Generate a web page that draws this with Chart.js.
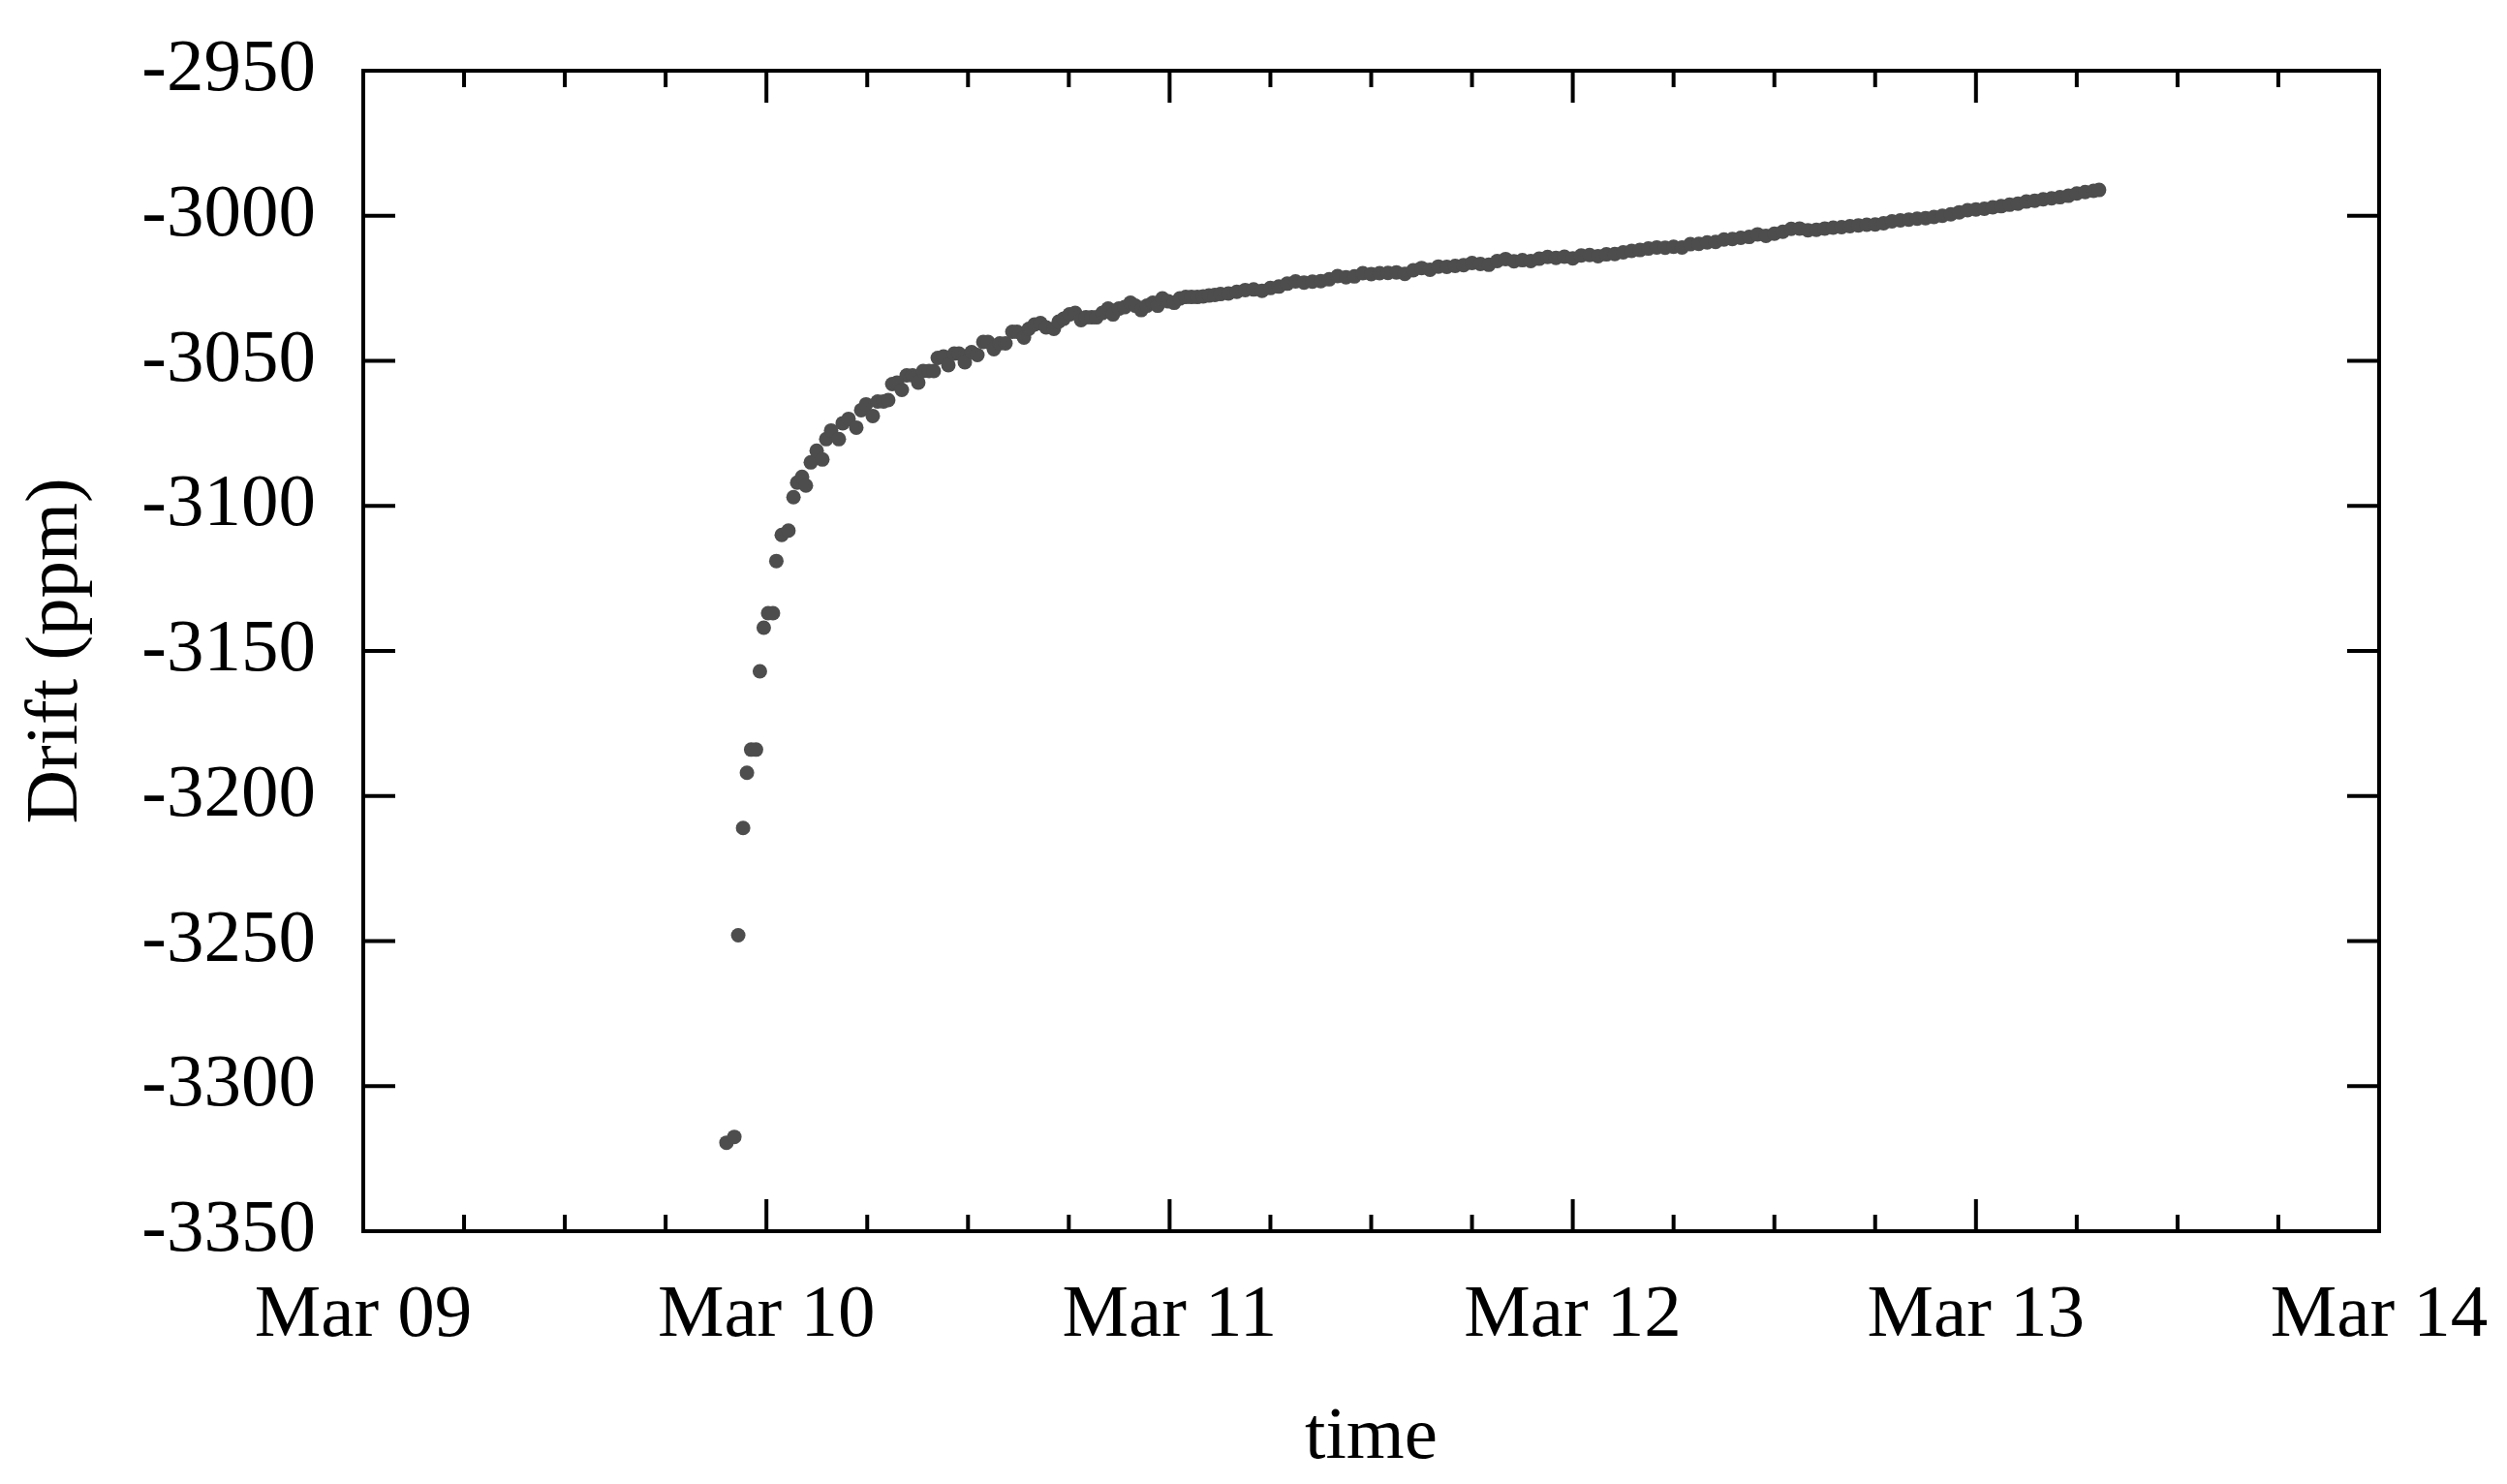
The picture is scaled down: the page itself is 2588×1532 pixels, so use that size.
<!DOCTYPE html>
<html>
<head>
<meta charset="utf-8">
<title>Drift</title>
<script src="https://cdn.jsdelivr.net/npm/chart.js@4.4.1/dist/chart.umd.min.js"></script>
<style>
  html, body { margin: 0; padding: 0; background: #fff; }
  canvas { display: block; }
</style>
</head>
<body>
<canvas id="driftChart" width="2588" height="1532"></canvas>
<script>
// hours since Mar 09 00:00
const hours = [
  21.62, 22.09, 22.32, 22.61, 22.84, 23.09, 23.38, 23.61, 23.84, 24.10,
  24.39, 24.59, 24.91, 25.31, 25.61, 25.83, 26.12, 26.35, 26.64, 26.99,
  27.33, 27.56, 27.85, 28.31, 28.54, 28.89, 29.35, 29.64, 29.93, 30.33,
  30.62, 30.97, 31.25, 31.49, 31.77, 32.06, 32.35, 32.70, 33.04, 33.33,
  33.68, 33.96, 34.20, 34.54, 34.83, 35.18, 35.46, 35.81, 36.21, 36.56,
  36.91, 37.19, 37.54, 37.89, 38.23, 38.64, 38.92, 39.33, 39.62, 39.96,
  40.31, 40.65, 41.11, 41.40, 41.69, 42.04, 42.38, 42.73, 43.02, 43.36,
  43.65, 44.00, 44.34, 44.63, 44.98, 45.32, 45.67, 45.96, 46.31, 46.65,
  47.00, 47.29, 47.57, 47.92, 48.27, 48.61, 48.96, 49.30, 49.65, 50.00,
  50.34, 50.69, 51.03,
  51.5, 52, 52.5, 53, 53.5, 54, 54.5, 55, 55.5, 56,
  56.5, 57, 57.5, 58, 58.5, 59, 59.5, 60, 60.5, 61,
  61.5, 62, 62.5, 63, 63.5, 64, 64.5, 65, 65.5, 66,
  66.5, 67, 67.5, 68, 68.5, 69, 69.5, 70, 70.5, 71,
  71.5, 72, 72.5, 73, 73.5, 74, 74.5, 75, 75.5, 76,
  76.5, 77, 77.5, 78, 78.5, 79, 79.5, 80, 80.5, 81,
  81.5, 82, 82.5, 83, 83.5, 84, 84.5, 85, 85.5, 86,
  86.5, 87, 87.5, 88, 88.5, 89, 89.5, 90, 90.5, 91,
  91.5, 92, 92.5, 93, 93.5, 94, 94.5, 95, 95.5, 96,
  96.5, 97, 97.5, 98, 98.5, 99, 99.5, 100, 100.5, 101,
  101.5, 102, 102.5, 103, 103.33
];

// drift in ppm
const drift = [
  -3319.5, -3317.5, -3248, -3211, -3192, -3184, -3184, -3157, -3142, -3137,
  -3137, -3119, -3110, -3108.5, -3097, -3092, -3090, -3093, -3085, -3081,
  -3084, -3077, -3074, -3077, -3071.5, -3070, -3073, -3067, -3065, -3069,
  -3064, -3064, -3063.5, -3058, -3057.5, -3060, -3055, -3055, -3057.5, -3053.5,
  -3053.5, -3053.5, -3049, -3048.5, -3051.5, -3047.5, -3047.5, -3050.5, -3047, -3048,
  -3043.5, -3043.5, -3046, -3044, -3044, -3040, -3040, -3042, -3039, -3037.5,
  -3037, -3038.5, -3039, -3036.5, -3035.5, -3034, -3033.5, -3036, -3035, -3035,
  -3035, -3033.5, -3032, -3034, -3032, -3031.5, -3030, -3031, -3032.5, -3031,
  -3030, -3031, -3028.5, -3029.5, -3030, -3028.5, -3028, -3028, -3028, -3027.8,
  -3027.5, -3027.3, -3027,
  -3026.8, -3026.2, -3025.6, -3025.4, -3025.9, -3024.9, -3024.4, -3023.4, -3022.6, -3023.0,
  -3022.7, -3022.5, -3021.9, -3020.8, -3021.2, -3020.9, -3019.8, -3020.1, -3019.8, -3019.7,
  -3019.5, -3020.0, -3018.8, -3018.0, -3018.6, -3017.5, -3017.6, -3017.3, -3017.0, -3016.3,
  -3016.6, -3016.9, -3015.6, -3014.9, -3015.7, -3015.3, -3015.6, -3014.8, -3014.2, -3014.5,
  -3014.1, -3014.7, -3013.7, -3013.5, -3013.9, -3013.3, -3013.2, -3012.6, -3012.1, -3011.8,
  -3011.3, -3010.9, -3011.0, -3010.7, -3010.9, -3009.8, -3009.7, -3009.2, -3009.0, -3008.2,
  -3008.0, -3007.6, -3007.3, -3006.4, -3006.9, -3006.2, -3005.5, -3004.5, -3004.4, -3005.0,
  -3004.8, -3004.4, -3004.1, -3003.9, -3003.6, -3003.3, -3003.1, -3003.0, -3002.6, -3001.9,
  -3001.6, -3001.3, -3001.0, -3000.8, -3000.4, -3000.0, -2999.5, -2998.8, -2998.1, -2997.8,
  -2997.6, -2997.1, -2996.7, -2996.2, -2995.8, -2995.1, -2994.8, -2994.3, -2994.0, -2993.6,
  -2993.1, -2992.3, -2991.8, -2991.4, -2991.1
];

const dayLabels = ['Mar 09', 'Mar 10', 'Mar 11', 'Mar 12', 'Mar 13', 'Mar 14'];

const serif = { family: '"Liberation Serif", "Times New Roman", serif', size: 77 };

// box round the plot with inward ticks on all four sides
const frameTicks = {
  id: 'frameTicks',
  afterDatasetsDraw(chart) {
    const { ctx, chartArea: a, scales: { x, y } } = chart;
    ctx.save();
    ctx.strokeStyle = '#000';
    ctx.lineWidth = 4;
    ctx.strokeRect(a.left, a.top, a.right - a.left, a.bottom - a.top);
    ctx.beginPath();
    x.ticks.forEach(t => {
      const px = x.getPixelForValue(t.value);
      const len = t.value % 24 === 0 ? 33 : 17;
      ctx.moveTo(px, a.bottom); ctx.lineTo(px, a.bottom - len);
      ctx.moveTo(px, a.top); ctx.lineTo(px, a.top + len);
    });
    y.ticks.forEach(t => {
      const py = y.getPixelForValue(t.value);
      ctx.moveTo(a.left, py); ctx.lineTo(a.left + 33, py);
      ctx.moveTo(a.right, py); ctx.lineTo(a.right - 33, py);
    });
    ctx.stroke();
    ctx.restore();
  }
};

const ctx = document.getElementById('driftChart').getContext('2d');

const driftChart = new Chart(ctx, {
  type: 'scatter',
  data: {
    datasets: [{
      label: 'Drift',
      data: hours.map((h, i) => ({ x: h, y: drift[i] })),
      backgroundColor: '#4d4d4d',
      borderWidth: 0,
      pointRadius: 7.5,
      pointHoverRadius: 7.5
    }]
  },
  options: {
    responsive: false,
    animation: false,
    devicePixelRatio: 1,
    layout: {
      padding: { top: 73, right: 132, bottom: 0, left: 0 }
    },
    plugins: {
      legend: { display: false },
      tooltip: { enabled: false }
    },
    scales: {
      x: {
        type: 'linear',
        min: 0,
        max: 120,
        grid: { display: false, drawTicks: false },
        border: { display: false },
        ticks: {
          stepSize: 6,
          autoSkip: false,
          maxRotation: 0,
          padding: 42,
          color: '#000',
          font: serif,
          callback: v => (v % 24 === 0 ? dayLabels[v / 24] : '')
        },
        title: {
          display: true,
          text: 'time',
          color: '#000',
          font: serif,
          padding: { top: 0, bottom: 1 }
        },
        afterFit: s => {
          s.height = 261;
          s.paddingLeft = 0;
          s.paddingRight = 0;
        }
      },
      y: {
        min: -3350,
        max: -2950,
        grid: { display: false, drawTicks: false },
        border: { display: false },
        ticks: {
          stepSize: 50,
          padding: 49,
          color: '#000',
          font: serif,
          callback: v => String(v)
        },
        title: {
          display: true,
          text: 'Drift (ppm)',
          color: '#000',
          font: serif,
          padding: { top: 13, bottom: 0 }
        },
        afterFit: s => {
          s.width = 375;
          s.paddingTop = 0;
          s.paddingBottom = 0;
        }
      }
    }
  },
  plugins: [frameTicks]
});
</script>
</body>
</html>
